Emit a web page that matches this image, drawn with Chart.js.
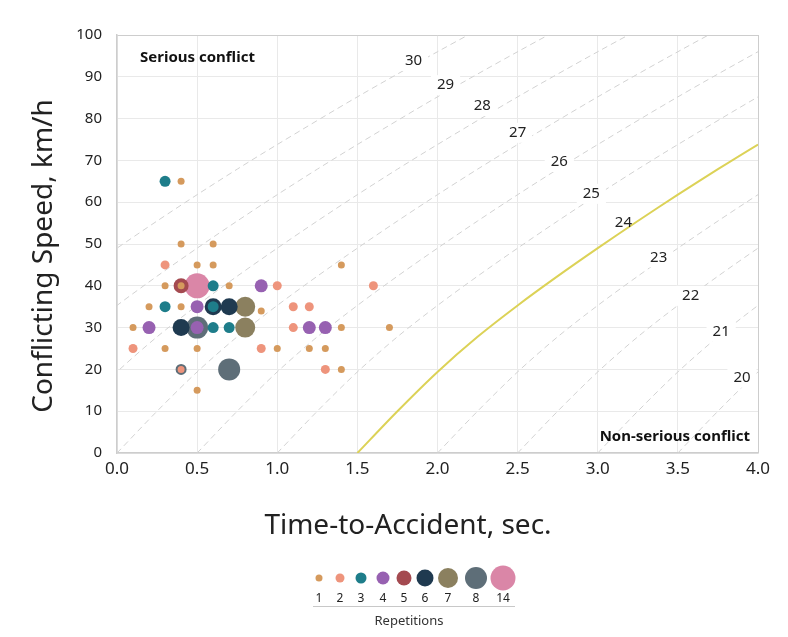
<!DOCTYPE html>
<html>
<head>
<meta charset="utf-8">
<script src="https://cdn.jsdelivr.net/npm/chart.js@4.4.1/dist/chart.umd.min.js"></script>
<style>
  html, body { margin: 0; padding: 0; background: #fff; }
</style>
</head>
<body>
<canvas id="chart" width="788" height="637"></canvas>
<script>
// repetitions legend
const repetitionLevels = [1, 2, 3, 4, 5, 6, 7, 8, 14];
const repetitionColors = ["#d59a5d", "#ee947c", "#1e7d8a", "#9761b1", "#a44a50", "#1f3a50", "#8b805f", "#5e6e78", "#da86a7"];
const repetitionRadius = [3.5, 4.5, 5.5, 6.5, 7.5, 8.5, 10, 11, 12.5];

// observed conflicts, [time-to-accident (s), conflicting speed (km/h)]
const rep1 = [[0.4, 65], [0.4, 50], [0.6, 50], [0.5, 45], [0.6, 45], [1.4, 45], [0.3, 40], [0.4, 40], [0.7, 40],
  [0.2, 35], [0.4, 35], [0.9, 34], [0.1, 30], [1.4, 30], [1.7, 30], [0.3, 25], [0.5, 25], [1.0, 25], [1.2, 25],
  [1.3, 25], [1.4, 20], [0.5, 15]];
const rep2 = [[0.3, 45], [1.0, 40], [1.6, 40], [1.1, 35], [1.2, 35], [1.1, 30], [0.1, 25], [0.9, 25], [1.3, 20], [0.4, 20]];
const rep3 = [[0.3, 65], [0.6, 40], [0.3, 35], [0.6, 35], [0.6, 30], [0.7, 30]];
const rep4 = [[0.9, 40], [0.5, 35], [0.2, 30], [0.5, 30], [1.2, 30], [1.3, 30]];
const rep5 = [[0.4, 40]];
const rep6 = [[0.6, 35], [0.7, 35], [0.4, 30]];
const rep7 = [[0.8, 35], [0.8, 30]];
const rep8 = [[0.5, 30], [0.7, 20]];
const rep14 = [[0.5, 40]];
const repSeries = [rep1, rep2, rep3, rep4, rep5, rep6, rep7, rep8, rep14];

// this one salmon dot has a slate rim in the original
const rimmedPoints = [[0.4, 20]];

// shape of a severity curve: TA measured from where it leaves 0 km/h
const profileDT = [0, 0.25, 0.5, 0.75, 1.0, 1.25, 1.5, 1.75, 2.0, 2.25, 2.5, 3.0, 3.5, 4.0, 4.5, 5.0, 5.5];
const profileSpeed = [0, 10, 19.4, 27.8, 35.3, 42.3, 49, 55.5, 61.8, 67.9, 73.8, 85.2, 96, 106.3, 116, 125.5, 134.5];

// severity levels and the TA where each curve meets 0 km/h
const severityLevels = [20, 21, 22, 23, 24, 25, 26, 27, 28, 29, 30];
const severityStartTA = [3.5, 3.0, 2.5, 2.0, 1.5, 1.0, 0.5, 0.0, -0.5, -1.0, -1.5];
const severityLabelTA = [3.9, 3.77, 3.58, 3.38, 3.16, 2.96, 2.76, 2.5, 2.28, 2.05, 1.85];
const severityLabelSpeed = [18, 29, 37.6, 46.8, 55, 62, 69.6, 76.6, 83, 88, 93.8];
const thresholdLevel = 24;

const xTicks = [0, 0.5, 1, 1.5, 2, 2.5, 3, 3.5, 4];

const FONT = "'Noto Sans', 'Open Sans', sans-serif";
const frameColor = "#cdcdcd";

const isRimmed = r => r && rimmedPoints.some(p => p[0] === r.x && p[1] === r.y);

const bubbleSets = repSeries.map((pts, i) => ({
  type: "scatter",
  label: String(repetitionLevels[i]),
  data: pts.map(([ta, v]) => ({ x: ta, y: v })),
  backgroundColor: repetitionColors[i],
  borderColor: ctx => (isRimmed(ctx.raw) ? "#5e6e78" : repetitionColors[i]),
  borderWidth: ctx => (isRimmed(ctx.raw) ? 2 : 0),
  pointRadius: repetitionRadius[i],
  pointHoverRadius: repetitionRadius[i],
  order: i,
}));

const curveSets = severityLevels.map((lvl, i) => {
  const isThreshold = lvl === thresholdLevel;
  return {
    type: "line",
    label: "severity " + lvl,
    data: profileDT.map((dt, k) => ({ x: severityStartTA[i] + dt, y: profileSpeed[k] })),
    borderColor: isThreshold ? "#dcd257" : "#d2d2d2",
    borderWidth: isThreshold ? 2 : 1,
    borderDash: isThreshold ? [] : [6, 4],
    pointRadius: 0,
    tension: 0.3,
    fill: false,
    order: isThreshold ? 20 : 21,
  };
});

const overlay = {
  id: "overlay",
  afterDatasetsDraw(chart) {
    const { ctx, chartArea, scales: { x, y } } = chart;
    ctx.save();

    // severity level labels sit in a gap of their curve
    ctx.font = "15px " + FONT;
    ctx.textAlign = "center";
    ctx.textBaseline = "middle";
    severityLevels.forEach((lvl, i) => {
      const px = x.getPixelForValue(severityLabelTA[i]);
      const py = y.getPixelForValue(severityLabelSpeed[i]);
      if (lvl !== thresholdLevel) {
        const w = ctx.measureText(String(lvl)).width + 12;
        ctx.fillStyle = "#fff";
        ctx.fillRect(px - w / 2, py - 10, w, 20);
      }
      ctx.fillStyle = "#222";
      ctx.fillText(String(lvl), px, py);
    });

    // zone captions
    ctx.font = "bold 15px " + FONT;
    ctx.fillStyle = "#111";
    ctx.textAlign = "left";
    ctx.fillText("Serious conflict", chartArea.left + 23, chartArea.top + 23);
    ctx.textAlign = "right";
    ctx.fillText("Non-serious conflict", chartArea.right - 8, chartArea.bottom - 16);
    ctx.restore();
  },
  afterDraw(chart) {
    const { ctx } = chart;
    ctx.save();

    // axis titles
    ctx.fillStyle = "#222";
    ctx.font = "28px " + FONT;
    ctx.textAlign = "center";
    ctx.textBaseline = "middle";
    ctx.fillText("Time-to-Accident, sec.", 408, 526);
    ctx.translate(44, 256);
    ctx.rotate(-Math.PI / 2);
    ctx.fillText("Conflicting Speed, km/h", 0, 0);
    ctx.setTransform(1, 0, 0, 1, 0, 0);

    // size legend
    const cx = [319, 340, 361, 383, 404, 425, 448, 476, 503];
    repetitionLevels.forEach((lvl, i) => {
      ctx.beginPath();
      ctx.arc(cx[i], 578, repetitionRadius[i], 0, Math.PI * 2);
      ctx.fillStyle = repetitionColors[i];
      ctx.fill();
      ctx.fillStyle = "#222";
      ctx.font = "12px " + FONT;
      ctx.fillText(String(lvl), cx[i], 598.5);
    });
    ctx.strokeStyle = "#c8c8c8";
    ctx.lineWidth = 1;
    ctx.beginPath();
    ctx.moveTo(313, 606.5);
    ctx.lineTo(515, 606.5);
    ctx.stroke();
    ctx.fillStyle = "#333";
    ctx.font = "13px " + FONT;
    ctx.fillText("Repetitions", 409, 621);
    ctx.restore();
  },
};

new Chart(document.getElementById("chart"), {
  type: "scatter",
  data: { datasets: [...bubbleSets, ...curveSets] },
  options: {
    responsive: false,
    devicePixelRatio: 1,
    animation: false,
    layout: { padding: { left: 0, right: 30, top: 35, bottom: 144 } },
    plugins: { legend: { display: false }, tooltip: { enabled: false } },
    scales: {
      x: {
        type: "linear",
        min: 0,
        max: 4,
        afterBuildTicks: scale => {
          scale.ticks = xTicks.map(v => ({ value: v }));
        },
        afterFit: scale => {
          scale.height = 40;
        },
        ticks: {
          padding: 6,
          color: "#222",
          font: { family: FONT, size: 17 },
          callback: v => Number(v).toFixed(1),
        },
        grid: {
          drawTicks: false,
          color: ctx => (ctx.tick && ctx.tick.value === 4 ? frameColor : "#e9e9e9"),
        },
        border: { color: frameColor, width: 1.5 },
      },
      y: {
        type: "linear",
        min: 0,
        max: 100,
        afterFit: scale => {
          scale.width = 117;
        },
        ticks: {
          stepSize: 10,
          padding: 15,
          color: "#222",
          font: { family: FONT, size: 15 },
        },
        grid: {
          drawTicks: false,
          color: ctx => (ctx.tick && ctx.tick.value === 100 ? frameColor : "#e9e9e9"),
        },
        border: { color: frameColor, width: 1.5 },
      },
    },
  },
  plugins: [overlay],
});
</script>
</body>
</html>
